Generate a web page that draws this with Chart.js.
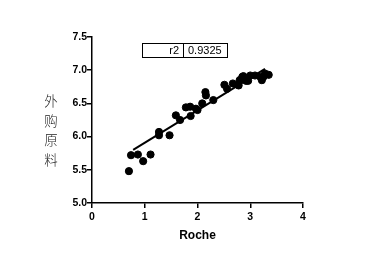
<!DOCTYPE html>
<html><head><meta charset="utf-8">
<script src="https://cdn.jsdelivr.net/npm/chart.js@4"></script>
<style>
html,body{margin:0;padding:0;background:#fff;}
#wrap{position:relative;width:382px;height:257px;}
#ylab{position:absolute;left:42px;top:91px;width:18px;font-family:"Noto Sans CJK SC";font-size:13.5px;line-height:19.5px;color:#222;text-align:center;font-weight:300;}
</style></head>
<body>
<div id="wrap"><canvas id="c" width="382" height="257"></canvas>
<div id="ylab">外<br>购<br>原<br>料</div></div>
<script>
const rocheX = [0.70,0.74,0.87,0.97,1.11,1.27,1.27,1.47,1.59,1.67,1.78,1.86,1.87,1.97,2.00,2.09,2.15,2.16,2.30,2.51,2.56,2.67,2.78,2.80,2.85,2.87,2.92,2.96,3.00,3.09,3.19,3.22,3.25,3.28,3.35];
const purchasedY = [5.48,5.72,5.73,5.63,5.73,6.07,6.02,6.02,6.32,6.25,6.44,6.45,6.31,6.42,6.40,6.50,6.67,6.62,6.55,6.78,6.72,6.80,6.77,6.85,6.90,6.91,6.84,6.84,6.92,6.92,6.90,6.85,6.90,6.95,6.93];
const fitX = [0.78,3.28];
const fitY = [5.80,7.02];
const xTicks = [0,1,2,3,4];
const yTicks = [5.0,5.5,6.0,6.5,7.0,7.5];
const r2Label = 'r2';
const r2Value = '0.9325';

const boxPlugin = {
  id:'r2box',
  afterDraw(chart){
    const ctx = chart.ctx;
    ctx.save();
    ctx.strokeStyle='#000';ctx.lineWidth=1;
    ctx.strokeRect(142.5,43.5,85,14);
    ctx.beginPath();ctx.moveTo(183.5,43.5);ctx.lineTo(183.5,57.5);ctx.stroke();
    ctx.fillStyle='#000';
    ctx.font='11px "Liberation Sans", Arial';
    ctx.textBaseline='middle';
    ctx.textAlign='right';
    ctx.fillText(r2Label,179,51);
    ctx.textAlign='left';
    ctx.fillText(r2Value,188,51);
    ctx.restore();
  }
};

new Chart(document.getElementById('c'),{
  type:'scatter',
  data:{datasets:[
    {data:rocheX.map((x,i)=>({x:x,y:purchasedY[i]})),backgroundColor:'#000',borderColor:'#000',pointRadius:3.6,pointHoverRadius:3.6},
    {type:'line',data:fitX.map((x,i)=>({x:x,y:fitY[i]})),borderColor:'#000',borderWidth:2,pointRadius:0,fill:false}
  ]},
  options:{
    responsive:false,animation:false,
    plugins:{legend:{display:false},tooltip:{enabled:false}},
    layout:{padding:{left:0,right:79,top:37,bottom:10}},
    scales:{
      x:{type:'linear',min:0,max:4,
        afterFit(s){s.height=44;},
        afterBuildTicks(s){s.ticks=xTicks.map(v=>({value:v}));},
        border:{color:'#000',width:1.5},
        grid:{drawOnChartArea:false,drawTicks:true,tickLength:5,color:'#000',lineWidth:1.5},
        ticks:{color:'#000',font:{family:'"Liberation Sans", Arial',size:10.5,weight:'bold'},padding:3,maxRotation:0},
        title:{display:true,text:'Roche',color:'#000',font:{family:'"Liberation Sans", Arial',size:12,weight:'bold'},padding:{top:6}}
      },
      y:{type:'linear',min:5,max:7.5,
        afterFit(s){s.width=92;},
        afterBuildTicks(s){s.ticks=yTicks.map(v=>({value:v}));},
        border:{color:'#000',width:1.5},
        grid:{drawOnChartArea:false,drawTicks:true,tickLength:5,color:'#000',lineWidth:1.5},
        ticks:{color:'#000',font:{family:'"Liberation Sans", Arial',size:10.5,weight:'bold'},padding:0,callback:v=>v.toFixed(1)}
      }
    }
  },
  plugins:[boxPlugin]
});
</script>
</body></html>
